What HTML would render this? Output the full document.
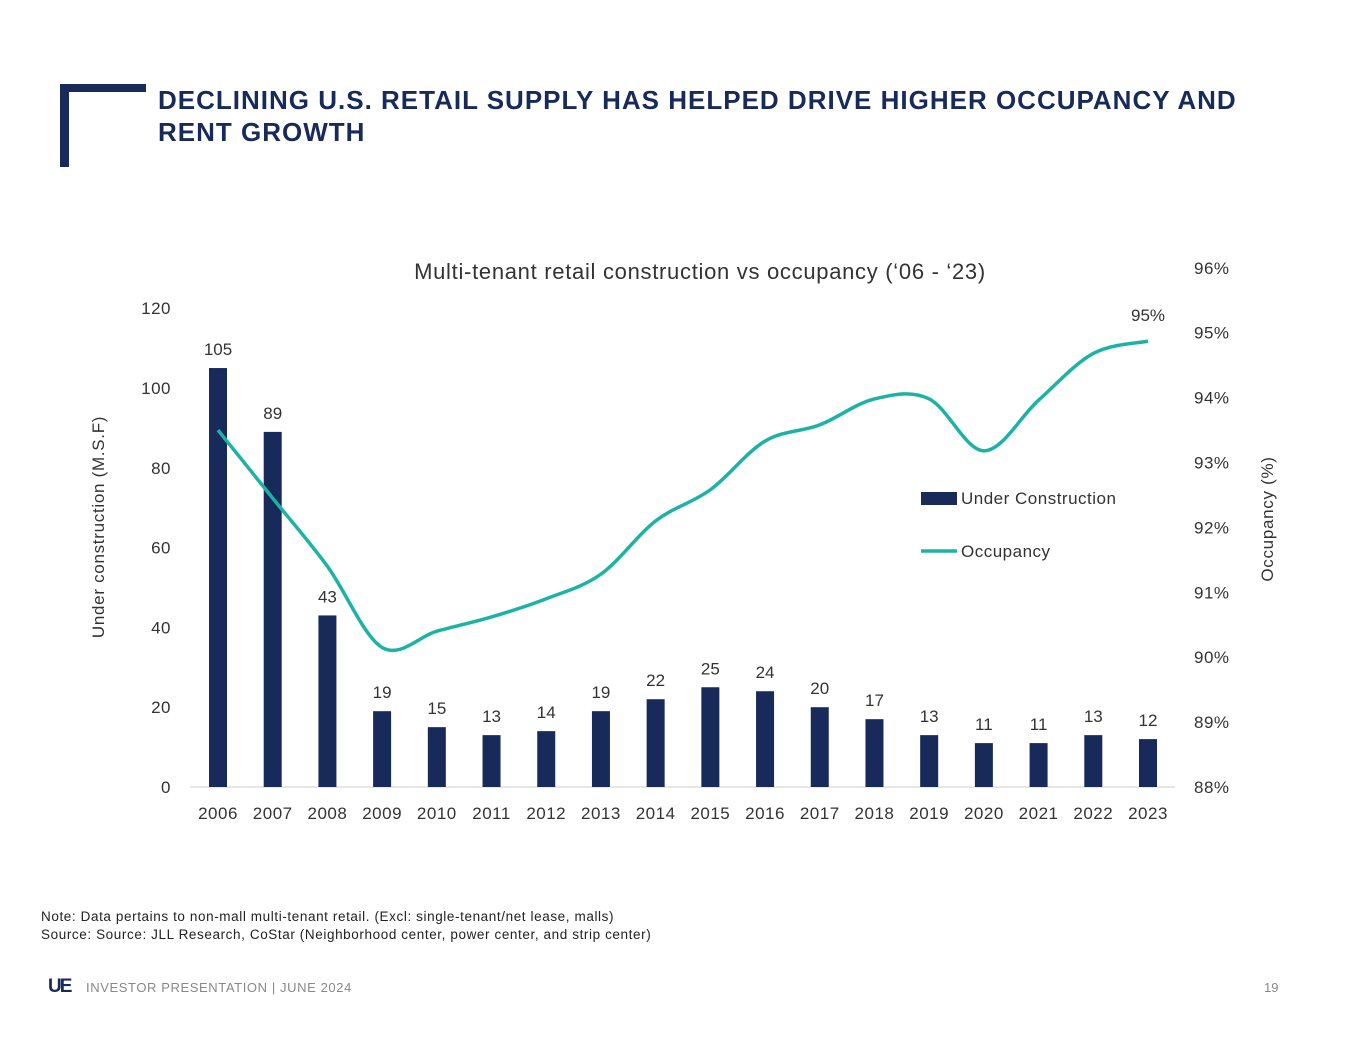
<!DOCTYPE html>
<html><head><meta charset="utf-8">
<style>
body{margin:0;width:1365px;height:1055px;background:#fff;font-family:"Liberation Sans",sans-serif;position:relative;overflow:hidden}
.abs{position:absolute}
</style></head><body>
<div class="abs" style="left:60px;top:84px;width:86px;height:8px;background:#172a5a"></div>
<div class="abs" style="left:60px;top:84px;width:9px;height:83px;background:#172a5a"></div>
<div class="abs" style="left:158px;top:84px;width:1100px;font-size:26px;font-weight:bold;color:#172a5a;line-height:32px;letter-spacing:1px">DECLINING U.S. RETAIL SUPPLY HAS HELPED DRIVE HIGHER OCCUPANCY AND RENT GROWTH</div>
<svg class="abs" style="left:0;top:0" width="1365" height="1055">
<g id="g"></g>
</svg>
<div class="abs" style="left:41px;top:908px;font-size:13.5px;letter-spacing:0.6px;color:#222;line-height:18px">Note: Data pertains to non-mall multi-tenant retail. (Excl: single-tenant/net lease, malls)<br>Source: Source: JLL Research, CoStar (Neighborhood center, power center, and strip center)</div>
<div class="abs" style="left:48px;top:976px;font-size:19px;font-weight:bold;color:#172a5a;letter-spacing:-2px">UE</div>
<div class="abs" style="left:86px;top:980px;font-size:13px;letter-spacing:0.6px;color:#888">INVESTOR PRESENTATION | JUNE 2024</div>
<div class="abs" style="left:1264px;top:980px;font-size:13px;color:#888">19</div>
<script>
const years=["2006","2007","2008","2009","2010","2011","2012","2013","2014","2015","2016","2017","2018","2019","2020","2021","2022","2023"];
const construction=[105,89,43,19,15,13,14,19,22,25,24,20,17,13,11,11,13,12];
const occupancy=[93.5,92.45,91.4,90.15,90.4,90.62,90.9,91.28,92.1,92.58,93.33,93.58,93.98,93.98,93.18,93.96,94.68,94.87];
const leftTicks=[0,20,40,60,80,100,120];
const rightTicks=[88,89,90,91,92,93,94,95,96];
const NS="http://www.w3.org/2000/svg";
const g=document.getElementById('g');
const x=i=>218+i*(930/17);
const yL=v=>787-v*3.99;
const yR=v=>787-(v-88)*64.9;
function el(t,a,txt){const e=document.createElementNS(NS,t);for(const k in a)e.setAttribute(k,a[k]);if(txt!==undefined)e.textContent=txt;g.appendChild(e);return e;}
let e=el('text',{x:700,y:279,'text-anchor':'middle','font-size':22,'letter-spacing':'0.7',fill:'#333'},"Multi-tenant retail construction vs occupancy (‘06 - ‘23)");

e=el('line',{x1:190,x2:1175,y1:787,y2:787,stroke:'#ccc','stroke-width':1});

leftTicks.forEach(t=>{const e=el('text',{x:171,y:yL(t)+6,'text-anchor':'end','font-size':17,'letter-spacing':'0.5',fill:'#333'},t);
});
rightTicks.forEach(t=>{const e=el('text',{x:1194,y:yR(t)+6,'font-size':17,'letter-spacing':'0.5',fill:'#333'},t+'%');
});
e=el('text',{transform:'translate(104,527) rotate(-90)','text-anchor':'middle','font-size':17,'letter-spacing':'0.7',fill:'#333'},'Under construction (M.S.F)');

e=el('text',{transform:'translate(1273,519) rotate(-90)','text-anchor':'middle','font-size':17,'letter-spacing':'0.7',fill:'#333'},'Occupancy (%)');

years.forEach((yr,i)=>{
 const b=el('rect',{x:x(i)-9,y:yL(construction[i]),width:18,height:787-yL(construction[i]),fill:'#172a5a'});
 
 const l=el('text',{x:x(i),y:yL(construction[i])-13,'text-anchor':'middle','font-size':17,fill:'#333'},construction[i]);
 
 const t=el('text',{x:x(i),y:819,'text-anchor':'middle','font-size':17,'letter-spacing':'0.5',fill:'#333'},yr);
 
});
const pts=occupancy.map((v,i)=>[x(i),yR(v)]);
let d='M'+pts[0][0]+','+pts[0][1];
for(let i=0;i<pts.length-1;i++){const p0=pts[Math.max(0,i-1)],p1=pts[i],p2=pts[i+1],p3=pts[Math.min(pts.length-1,i+2)];
 d+=` C${p1[0]+(p2[0]-p0[0])/6},${p1[1]+(p2[1]-p0[1])/6} ${p2[0]-(p3[0]-p1[0])/6},${p2[1]-(p3[1]-p1[1])/6} ${p2[0]},${p2[1]}`;}
e=el('path',{d:d,fill:'none',stroke:'#1db3a4','stroke-width':3.5});

const n=occupancy.length-1;
e=el('text',{x:x(n),y:yR(occupancy[n])-20,'text-anchor':'middle','font-size':17,fill:'#333'},Math.round(occupancy[n])+'%');

e=el('rect',{x:921,y:492,width:36,height:13,fill:'#172a5a'});

e=el('text',{x:961,y:504,'font-size':17,'letter-spacing':'0.5',fill:'#333'},'Under Construction');

e=el('line',{x1:921,x2:957,y1:551,y2:551,stroke:'#1db3a4','stroke-width':3.5});

e=el('text',{x:961,y:557,'font-size':17,'letter-spacing':'0.5',fill:'#333'},'Occupancy');

</script>
</body></html>
